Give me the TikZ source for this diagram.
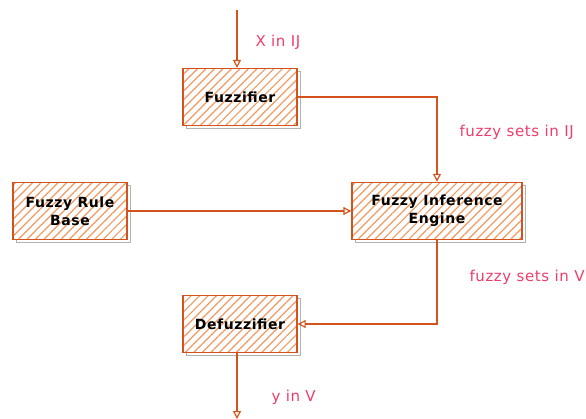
\documentclass[tikz,border=0pt]{standalone}
\usepackage{fontspec}
\setmainfont{DejaVu Sans}
\usetikzlibrary{patterns.meta,arrows.meta,shadows}
\definecolor{edge}{HTML}{D4521C}
\definecolor{hatch}{HTML}{F29A62}
\definecolor{lbl}{HTML}{F03C6A}
\tikzset{
  blk/.style={draw=edge, line width=1.4pt, minimum width=114pt, minimum height=57pt,
    align=center, font=\fontsize{14}{18}\selectfont\bfseries\addfontfeature{LetterSpace=4},
    drop shadow={shadow xshift=3pt, shadow yshift=-3pt, fill=none, draw=gray!60, line width=1pt, opacity=1},
    preaction={fill=white},
    pattern={Lines[angle=45,distance=6pt,line width=1.2pt]}, pattern color=hatch},
  conn/.style={draw=edge, line width=1.2pt, -{Triangle[open,length=8pt,width=8pt]}},
  lab/.style={text=lbl, font=\fontsize{15}{17}\selectfont\addfontfeature{LetterSpace=4}, anchor=west}
}
\begin{document}
\begin{tikzpicture}[x=1pt,y=-1pt]
\useasboundingbox (0,0) rectangle (586,419);
\node[blk] (fz) at (240,97) {Fuzzifier};
\node[blk] (rb) at (70,211) {Fuzzy Rule\\Base};
\node[blk, minimum width=170pt] (ie) at (437,211) {Fuzzy Inference\\Engine};
\node[blk] (df) at (240,324) {Defuzzifier};
\coordinate (in) at (237,10);
\coordinate (out) at (237,419);
\draw[conn] (in) -- (in |- fz.north);
\draw[conn] (fz.east) -| (ie.north);
\draw[conn] (rb.east) -- (ie.west);
\draw[conn] (ie.south) |- (df.east);
\draw[conn] (df.south -| out) -- (out);
\node[lab] (l1) at (252,42) {X in IJ};
\node[lab] (l2) at (456,132) {fuzzy sets in IJ};
\node[lab] (l3) at (466,277) {fuzzy sets in V};
\node[lab] (l4) at (268,397) {y in V};
\end{tikzpicture}
\end{document}
